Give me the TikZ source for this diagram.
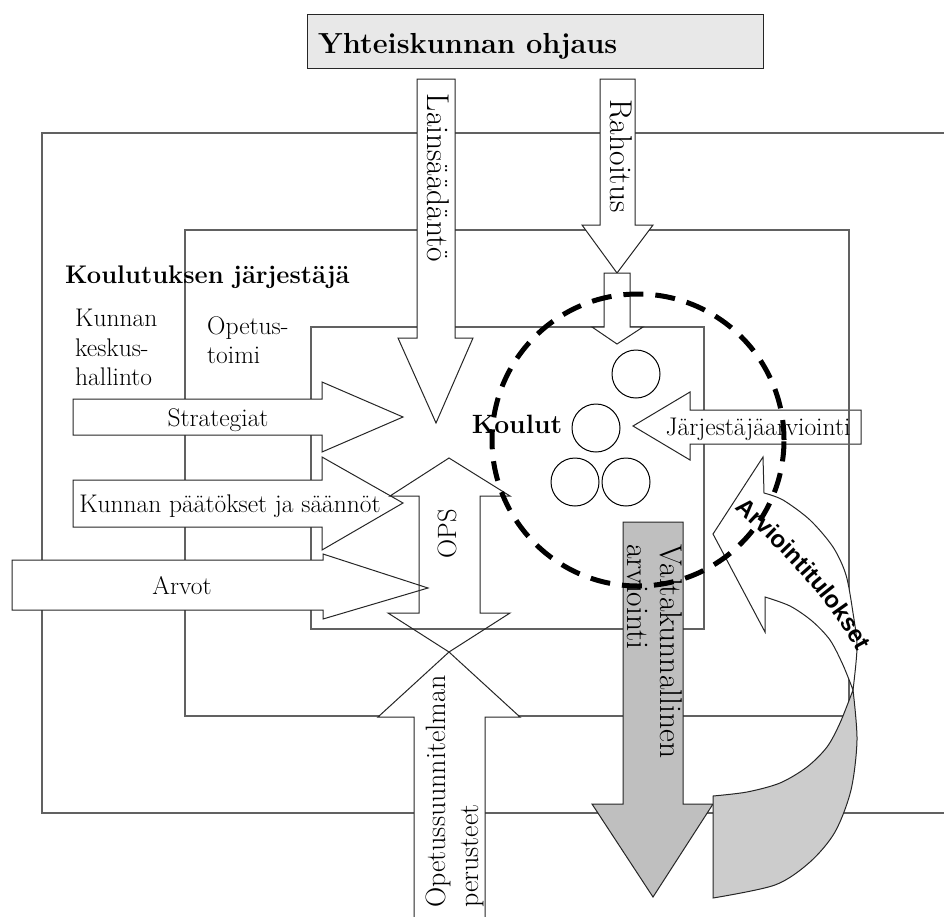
\documentclass[tikz,border=0pt]{standalone}
\usepackage{fontspec}
\setsansfont{Liberation Sans}
\usetikzlibrary{decorations.text}

\newcommand\tulosfont{\sffamily\bfseries\fontsize{24}{24}\selectfont}

\begin{document}
\begin{tikzpicture}[x=1pt, y=-1pt,
    frame/.style={draw=black!62, line width=1.3pt},
    blockarrow/.style={draw=black!85, line width=1pt, fill=white},
    school/.style={draw=black, line width=1pt, circle, minimum size=48pt, inner sep=0pt},
    lbl/.style={inner sep=0pt, font=\fontsize{25.5}{29.5}\selectfont},
    lblbold/.style={inner sep=0pt, font=\bfseries\fontsize{25.5}{29}\selectfont},
    lbltall/.style={inner sep=0pt, font=\fontsize{31.5}{33}\selectfont},
    ring/.style={draw=black, line width=5pt, dash pattern=on 20pt off 12pt}]

\useasboundingbox (0,0) rectangle (944,916);
\clip (0,0) rectangle (944,916);

% opetustoimi
\draw[frame] (311,327) rectangle (704,629);
\draw[blockarrow] (861,410) -- (690,410) -- (690,392) -- (633,426) -- (690,460) -- (690,444) -- (861,444) -- cycle;
% koulutuksen jarjestaja, kunta
\draw[frame] (185,230) rectangle (849,716);
\draw[frame] (42,133) rectangle (970,813);

% yhteiskunta
\draw[draw=black!85, line width=1pt, fill=black!9] (307,14) rectangle (763,68);
\node[anchor=base west, inner sep=0pt, font=\bfseries\fontsize{29}{30}\selectfont] (ohjaus) at (318,53) {Yhteiskunnan ohjaus};

% down arrows
\draw[blockarrow] (417,79) -- (455,79) -- (455,338) -- (473,338) -- (436,423) -- (398,338) -- (417,338) -- cycle;
\draw[blockarrow] (600,79) -- (635,79) -- (635,225) -- (653,225) -- (617,273) -- (582,225) -- (600,225) -- cycle;
\draw[blockarrow] (604,273) -- (630,273) -- (630,327) -- (643,327) -- (617,344) -- (592,327) -- (604,327) -- cycle;

% right arrows
\draw[blockarrow] (73,399) -- (322,399) -- (322,382) -- (403,417) -- (322,452) -- (322,435) -- (73,435) -- cycle;
\draw[blockarrow] (73,480) -- (322,480) -- (322,457) -- (403,503) -- (322,550) -- (322,527) -- (73,527) -- cycle;
\draw[blockarrow] (12,560) -- (323,560) -- (323,554) -- (428,588) -- (323,619) -- (323,610) -- (12,610) -- cycle;

% OPS
\draw[blockarrow, fill=none] (419,496) -- (390,496) -- (449,458) -- (510,496) -- (480,496) -- (480,613) -- (510,613) -- (449,652) -- (388,613) -- (419,613) -- cycle;
\draw[blockarrow] (414,930) -- (414,717) -- (378,717) -- (449,652) -- (520,717) -- (485,717) -- (485,930) -- cycle;

% valtakunnallinen arviointi
\draw[blockarrow, fill=black!25] (623,522) -- (683,522) -- (683,804) -- (713,804) -- (653,897) -- (592,804) -- (623,804) -- cycle;

% arviointitulokset
\draw[blockarrow] (764,493) -- plot[smooth] coordinates {(764,493) (783,500) (810,520) (833,547) (846,575) (853,613) (857,647) (853,690)}
  -- plot[smooth] coordinates {(853,690) (843,665) (830,640) (812,621) (790,606) (765,597)}
  -- (765,632) -- (713,534) -- (763,457) -- cycle;
\draw[blockarrow, fill=black!20] (853,690) -- plot[smooth] coordinates {(853,690) (857,740) (851,790) (835,832) (810,862) (775,885) (713,898)}
  -- (713,796) -- plot[smooth] coordinates {(713,796) (747,792) (780,783) (807,767) (827,747) (840,723) (853,690)} -- cycle;
\path[decorate, decoration={text along path, text={|\tulosfont|Arviointitulokset}, text align=center}]
  (720,495) .. controls (770,540) and (835,600) .. (866,670);

% koulut
\foreach \n/\p in {k1/{(636,374)}, k2/{(596,428)}, k3/{(575,482)}, k4/{(626,482)}}
  \node[school] (\n) at \p {};

% labels
\node[lblbold, anchor=base west] (jarjestaja) at (65,283) {Koulutuksen järjestäjä};
\node[lbl, anchor=north west, align=left] (keskus) at (75,309) {Kunnan\\keskus-\\hallinto};
\node[lbl, anchor=north west, align=left] (opetustoimi) at (207,316) {Opetus-\\toimi};
\node[lbl, anchor=base] (strategiat) at (218,426) {Strategiat};
\node[lbl, anchor=base] (paatokset) at (230,512) {Kunnan päätökset ja säännöt};
\node[lbl, anchor=base] (arvot) at (182,594) {Arvot};
\node[lblbold, font=\bfseries\fontsize{26.5}{29}\selectfont, anchor=base] (koulut) at (517,433) {Koulut};
\node[lbl, anchor=base] (jarjarv) at (758,435) {Järjestäjäarviointi};
\node[lbltall, rotate=-90] (laki) at (438,178) {Lainsäädäntö};
\node[lbltall, rotate=-90] (raha) at (621,156) {Rahoitus};
\node[lbl, font=\fontsize{26.5}{30}\selectfont, rotate=90] (ops) at (447,534) {OPS};
\node[lbltall, rotate=-90, anchor=north west, align=left] (valtak) at (683,544) {Valtakunnallinen\\arviointi};
\node[inner sep=0pt, font=\fontsize{28}{33}\selectfont, rotate=90, anchor=north west, align=left] (perusteet) at (426,908) {Opetussuunnitelman\\perusteet};

% koulujen arviointi
\draw[ring] (638,440) circle[radius=146pt];
\end{tikzpicture}
\end{document}
